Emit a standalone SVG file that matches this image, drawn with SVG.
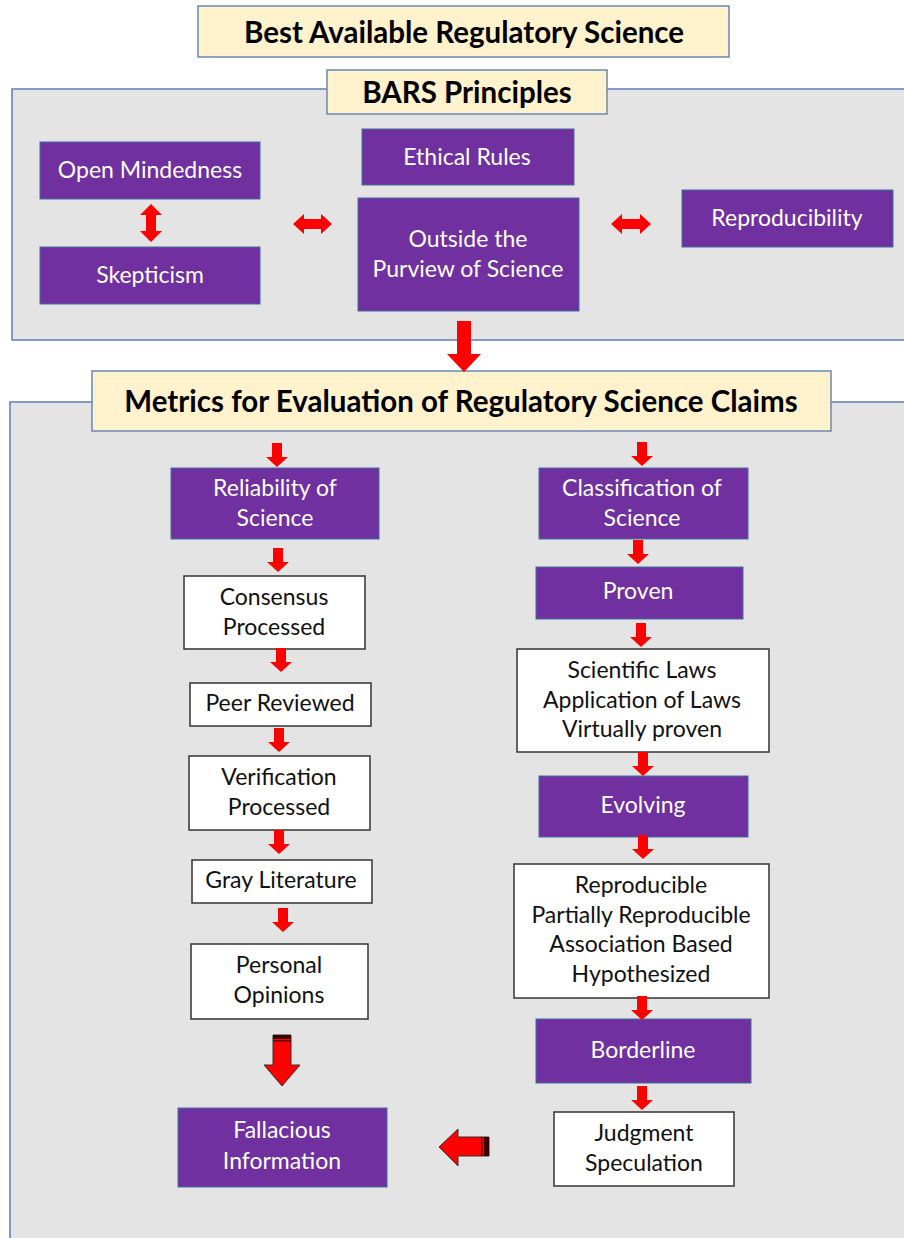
<svg xmlns="http://www.w3.org/2000/svg" xmlns:xlink="http://www.w3.org/1999/xlink" width="904" height="1238" viewBox="0 0 904 1238">
<style>
.panel{fill:#e4e4e4;stroke:#5f7fb3;stroke-width:1.5}
.label{fill:#fff2cc;stroke:#6a86b8;stroke-width:1.5}
.purple{fill:#7030a0;stroke:#41719c;stroke-width:1}
.white{fill:#ffffff;stroke:#333333;stroke-width:1.5}
.arr{fill:#ff0000}
.barr{fill:#ff0000;stroke:#333;stroke-width:1}
.t{font-family:Lato,"Liberation Sans",sans-serif;font-size:23px;text-anchor:middle;dominant-baseline:central}
.tw{fill:#ffffff}
.tb{fill:#111111}
.h{font-family:Lato,"Liberation Sans",sans-serif;font-weight:bold;text-anchor:middle;dominant-baseline:central;fill:#000}
</style>
<defs>
<path id="sa" d="M-5,0 H5 V14 H11 L0,24 L-11,14 H-5 Z"/>
</defs>
<rect width="904" height="1238" fill="#ffffff"/>

<g id="bars-panel"><rect class="panel" x="12" y="89" width="900" height="251"/></g>
<g id="metrics-panel"><rect class="panel" x="10" y="402" width="902" height="846"/></g>

<g id="title"><rect class="label" x="198" y="6" width="531" height="51"/><text class="h" x="464" y="31" font-size="29.5">Best Available Regulatory Science</text></g>
<g id="bars-label"><rect class="label" x="327" y="70" width="280" height="44"/><text class="h" x="467" y="91" font-size="29.5">BARS Principles</text></g>

<g id="open"><rect class="purple" x="40" y="142" width="220" height="57"/><text class="t tw" x="150" y="169">Open Mindedness</text></g>
<g id="skept"><rect class="purple" x="40" y="247" width="220" height="57"/><text class="t tw" x="150" y="274">Skepticism</text></g>
<g id="ethical"><rect class="purple" x="362" y="129" width="212" height="56"/><text class="t tw" x="467" y="156">Ethical Rules</text></g>
<g id="outside"><rect class="purple" x="358" y="198" width="221" height="113"/><text class="t tw" x="468" y="238">Outside the</text><text class="t tw" x="468" y="268">Purview of Science</text></g>
<g id="repro"><rect class="purple" x="682" y="190" width="211" height="57"/><text class="t tw" x="787" y="217">Reproducibility</text></g>

<g id="metrics-label"><rect class="label" x="92" y="371" width="739" height="60"/><text class="h" x="461" y="400" font-size="29.5">Metrics for Evaluation of Regulatory Science Claims</text></g>

<g id="reliability"><rect class="purple" x="171" y="468" width="208" height="71"/><text class="t tw" x="275" y="487">Reliability  of</text><text class="t tw" x="275" y="517">Science</text></g>
<g id="consensus"><rect class="white" x="184" y="576" width="181" height="73"/><text class="t tb" x="274" y="596">Consensus</text><text class="t tb" x="274" y="626">Processed</text></g>
<g id="peer"><rect class="white" x="190" y="683" width="181" height="43"/><text class="t tb" x="280" y="702">Peer Reviewed</text></g>
<g id="verif"><rect class="white" x="189" y="756" width="181" height="74"/><text class="t tb" x="279" y="776">Verification</text><text class="t tb" x="279" y="806">Processed</text></g>
<g id="gray"><rect class="white" x="192" y="860" width="180" height="43"/><text class="t tb" x="281" y="879">Gray Literature</text></g>
<g id="personal"><rect class="white" x="191" y="944" width="177" height="75"/><text class="t tb" x="279" y="964">Personal</text><text class="t tb" x="279" y="994">Opinions</text></g>
<g id="fallacious"><rect class="purple" x="178" y="1108" width="209" height="79"/><text class="t tw" x="282" y="1129">Fallacious</text><text class="t tw" x="282" y="1160">Information</text></g>

<g id="classification"><rect class="purple" x="539" y="468" width="209" height="71"/><text class="t tw" x="642" y="487">Classification of</text><text class="t tw" x="642" y="517">Science</text></g>
<g id="proven"><rect class="purple" x="536" y="567" width="207" height="52"/><text class="t tw" x="638" y="590">Proven</text></g>
<g id="laws"><rect class="white" x="517" y="649" width="252" height="103"/><text class="t tb" x="642" y="669">Scientific Laws</text><text class="t tb" x="642" y="699">Application of Laws</text><text class="t tb" x="642" y="728">Virtually proven</text></g>
<g id="evolving"><rect class="purple" x="539" y="776" width="209" height="61"/><text class="t tw" x="643" y="804">Evolving</text></g>
<g id="reprolist"><rect class="white" x="514" y="864" width="255" height="134"/><text class="t tb" x="641" y="884">Reproducible</text><text class="t tb" x="641" y="914">Partially Reproducible</text><text class="t tb" x="641" y="943">Association Based</text><text class="t tb" x="641" y="973">Hypothesized</text></g>
<g id="borderline"><rect class="purple" x="536" y="1019" width="215" height="64"/><text class="t tw" x="643" y="1049">Borderline</text></g>
<g id="judgment"><rect class="white" x="554" y="1112" width="180" height="74"/><text class="t tb" x="644" y="1132">Judgment</text><text class="t tb" x="644" y="1162">Speculation</text></g>

<g id="connectors">
<path class="arr" d="M151,204 L162,215 H156 V231 H162 L151,242 L140,231 H146 V215 H140 Z"/>
<path class="arr" d="M293,224 L304,214 V219 H321 V214 L332,224 L321,234 V229 H304 V234 Z"/>
<path class="arr" d="M611,224 L622,214 V219 H640 V214 L651,224 L640,234 V229 H622 V234 Z"/>
<path class="arr" d="M457,321 H471 V354 H481 L464,372 L447,354 H457 Z"/>
<use href="#sa" class="arr" x="277" y="443"/>
<use href="#sa" class="arr" x="278" y="548"/>
<use href="#sa" class="arr" x="281" y="648"/>
<use href="#sa" class="arr" x="279" y="728"/>
<use href="#sa" class="arr" x="279" y="830"/>
<use href="#sa" class="arr" x="283" y="908"/>
<use href="#sa" class="arr" x="642" y="442"/>
<use href="#sa" class="arr" x="638" y="540"/>
<use href="#sa" class="arr" x="641" y="623"/>
<use href="#sa" class="arr" x="643" y="752"/>
<use href="#sa" class="arr" x="643" y="835"/>
<use href="#sa" class="arr" x="642" y="996"/>
<use href="#sa" class="arr" x="642" y="1086"/>
<path class="barr" d="M273,1035 H291 V1065 H300 L282,1086 L264,1065 H273 Z"/>
<rect x="273" y="1035" width="18" height="4" fill="#3a0000"/>
<rect x="273" y="1040" width="18" height="1.5" fill="#5a0000"/>
<path class="barr" d="M489,1137 V1156 H458 V1166 L439,1147 L458,1129 V1137 Z"/>
<rect x="484" y="1137" width="5" height="19" fill="#3a0000"/>
<rect x="481" y="1137" width="1.5" height="19" fill="#5a0000"/>
</g>
</svg>
